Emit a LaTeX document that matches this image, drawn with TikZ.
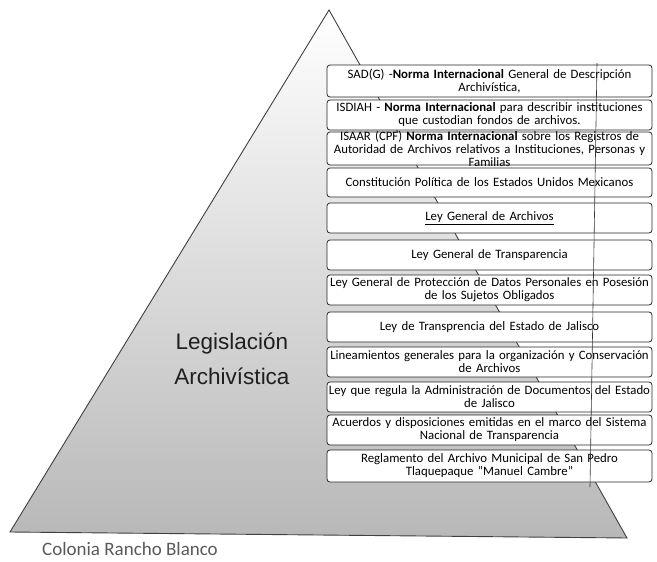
\documentclass[tikz,border=0pt]{standalone}
\usepackage{fontspec}
\setmainfont{Carlito}
\newfontfamily\arialfont{Liberation Sans}
\usetikzlibrary{positioning}
\tikzset{
  every picture/.style={x=1pt,y=-1pt},
  pyr/.style={draw=black!75,line width=0.9pt,top color=white,middle color=black!5,bottom color=black!28},
  lawbox/.style={draw=black!85,line width=0.8pt,rounded corners=3pt,fill=white,
    minimum width=325pt,text width=325pt,align=center,inner xsep=0pt,
    font=\fontsize{12.8}{13}\selectfont},
  bigtitle/.style={align=center,text=black!88,font=\arialfont\fontsize{22.5}{35}\selectfont},
  place/.style={text=black!65,font=\fontsize{19}{22}\selectfont},
  scanline/.style={draw=black!80,line width=0.6pt},
}
\begin{document}
\begin{tikzpicture}
  \useasboundingbox (0,0) rectangle (657,562);
  % pyramid
  \coordinate (apex) at (329,10);
  \coordinate (baseR) at (627,538);
  \coordinate (baseL) at (10,532);
  \draw[pyr] (apex) -- (baseR) -- (baseL) -- cycle;
  \node[bigtitle] (title) at (232,359) {Legislación\\Archivística};
  \node[place] (colonia) at (130,549) {Colonia Rancho Blanco};
  % boxes
  \foreach \yc/\h/\ys/\txt [count=\i] in {
      81/32/0.5/{SAD(G) -\textbf{Norma Internacional} General de Descripción\\Archivística,},
      115/30/0.5/{ISDIAH - \textbf{Norma Internacional} para describir instituciones\\que custodian fondos de archivos.},
      148.5/33/-3/{ISAAR (CPF) \textbf{Norma Internacional} sobre los Registros de\\Autoridad de Archivos relativos a Instituciones, Personas y\\Familias},
      182.5/29/0.5/{Constitución Política de los Estados Unidos Mexicanos},
      218/30/0.5/{\underline{Ley General de Archivos}},
      255/30/0.5/{Ley General de Transparencia},
      290/30/0.5/{Ley General de Protección de Datos Personales en Posesión\\de los Sujetos Obligados},
      327/30/0.5/{Ley de Transprencia del Estado de Jalisco},
      362/30/0.5/{Lineamientos generales para la organización y Conservación\\de Archivos},
      397/30/0.5/{Ley que regula la Administración de Documentos del Estado\\de Jalisco},
      430/30/0.5/{Acuerdos y disposiciones emitidas en el marco del Sistema\\Nacional de Transparencia},
      466/32/0.5/{Reglamento del Archivo Municipal de San Pedro\\Tlaquepaque "Manuel Cambre"}}{
    \node[lawbox,minimum height=\h pt,inner ysep=\ys pt] (law\i) at (489.5,\yc) {\txt};
  }
  \coordinate (scanT) at (597,63);
  \coordinate (scanB) at (590,487);
  \draw[scanline] (scanT) -- (scanB);
\end{tikzpicture}
\end{document}
